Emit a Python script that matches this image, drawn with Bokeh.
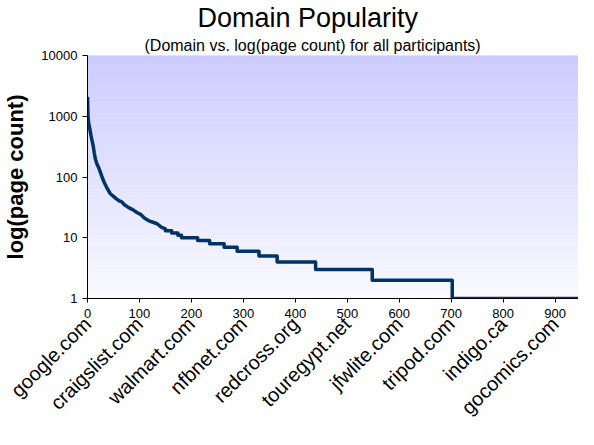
import math
from bokeh.plotting import figure
from bokeh.models import (FixedTicker, Title, Range1d, PrintfTickFormatter, LinearAxis)
from bokeh.embed import file_html
from bokeh.resources import INLINE

# ---- data ----
# head of the rank / page-count curve (rank -> page count)
head_rank = [0, 1, 2, 4, 7, 9, 11, 13, 15, 18, 22, 25, 28, 32, 37, 44, 50, 55,
             60, 66, 71, 80, 87, 95, 103, 110, 118, 126, 134, 142, 150]
head_count = [2100, 1000, 800, 650, 470, 390, 325, 250, 200, 165, 139, 118, 100,
              82, 67, 53, 48, 44, 41, 39, 35, 31, 29, 26, 24, 21, 19, 18, 17, 15, 14]
# flat tail: rank where each page count starts
plateau_start = [150, 162, 174, 181, 212, 235, 263, 288, 330, 365, 439, 548, 702]
plateau_count = [13, 12, 11, 10, 9, 8, 7, 6, 5, 4, 3, 2, 1]
last_rank = 960

x_ticks = [0, 100, 200, 300, 400, 500, 600, 700, 800, 900]
domain_labels = ["google.com", "craigslist.com", "walmart.com", "nfbnet.com",
                 "redcross.org", "touregypt.net", "jfwlite.com", "tripod.com",
                 "indigo.ca", "gocomics.com"]
y_ticks = [1, 10, 100, 1000, 10000]

title_text = "Domain Popularity"
subtitle_text = "(Domain vs. log(page count) for all participants)"
y_label = "log(page count)"

FONT = "Liberation Sans"

# ---- build step line ----
xs = list(head_rank)
ys = list(head_count)
prev = ys[-1]
for s, c in zip(plateau_start, plateau_count):
    xs += [s, s]
    ys += [prev, c]
    prev = c
xs.append(last_rank)
ys.append(prev)

p = figure(width=578, height=429, output_backend="svg", toolbar_location=None,
           y_axis_type="log", x_range=Range1d(0, 945), y_range=Range1d(1, 10000),
           min_border_left=80, min_border_right=0, min_border_top=0,
           min_border_bottom=0)
p.background_fill_color = "white"
p.border_fill_color = "white"
p.outline_line_color = None

# gradient background (decoration)
N = 64
top_rgb = (204, 204, 255)
bot_rgb = (250, 250, 255)
bottoms, tops, cols = [], [], []
for k in range(N):
    t = (k + 0.5) / N
    r = round(bot_rgb[0] + (top_rgb[0] - bot_rgb[0]) * t)
    g = round(bot_rgb[1] + (top_rgb[1] - bot_rgb[1]) * t)
    b = round(bot_rgb[2] + (top_rgb[2] - bot_rgb[2]) * t)
    bottoms.append(10 ** (4 * k / N))
    tops.append(10 ** (4 * (k + 1) / N))
    cols.append("#%02x%02x%02x" % (r, g, b))
p.quad(left=0, right=last_rank, bottom=bottoms, top=tops, fill_color=cols,
       line_color=cols, line_width=1)

p.xgrid.grid_line_color = None
p.ygrid.ticker = FixedTicker(ticks=y_ticks)
p.ygrid.grid_line_color = "#505050"
p.ygrid.grid_line_width = 1
p.ygrid.level = "underlay"

p.line(xs, ys, line_width=3.5, line_color="#003366", line_join="round")

# axes
p.yaxis.ticker = FixedTicker(ticks=y_ticks)
p.yaxis.formatter = PrintfTickFormatter(format="%d")
p.yaxis.minor_tick_line_color = None
p.yaxis.major_tick_out = 5
p.yaxis.major_tick_in = 0
p.yaxis.axis_line_color = "black"
p.yaxis.major_label_text_font = FONT
p.yaxis.major_label_text_font_size = "13px"
p.yaxis.major_label_text_color = "black"
p.yaxis.major_label_standoff = 5
p.yaxis.axis_label = y_label
p.yaxis.axis_label_text_font = FONT
p.yaxis.axis_label_text_font_size = "22px"
p.yaxis.axis_label_text_font_style = "bold"
p.yaxis.axis_label_text_color = "black"
p.yaxis.axis_label_standoff = 10

xa = p.xaxis[0]
xa.ticker = FixedTicker(ticks=x_ticks)
xa.minor_tick_line_color = None
xa.major_tick_out = 4
xa.major_tick_in = 0
xa.axis_line_color = "black"
xa.major_label_text_font = FONT
xa.major_label_text_font_size = "13px"
xa.major_label_text_color = "black"
xa.major_label_standoff = 6

lab_axis = LinearAxis(ticker=FixedTicker(ticks=x_ticks),
                      major_label_overrides={t: d for t, d in zip(x_ticks, domain_labels)},
                      major_label_orientation=math.pi / 4,
                      axis_line_color=None, major_tick_line_color=None,
                      minor_tick_line_color=None, major_tick_out=0, major_tick_in=0,
                      major_label_standoff=0,
                      major_label_text_font=FONT, major_label_text_font_size="20px",
                      major_label_text_color="black")
p.add_layout(lab_axis, "below")

p.add_layout(Title(text=subtitle_text, align="left", text_font=FONT,
                   text_font_size="16px", text_font_style="normal",
                   text_color="black", offset=57, standoff=4), "above")
p.add_layout(Title(text=title_text, align="left", text_font=FONT,
                   text_font_size="27px", text_font_style="normal",
                   text_color="black", offset=110, standoff=0), "above")

open("out.html", "w").write(file_html(p, INLINE))
